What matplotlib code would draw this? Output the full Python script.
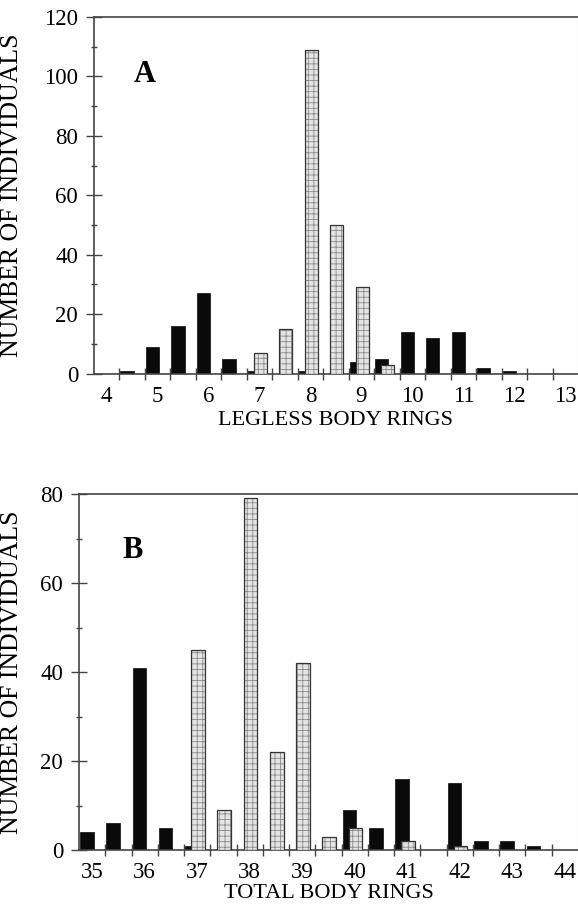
import numpy as np
import matplotlib
matplotlib.use("Agg")
import matplotlib.pyplot as plt
from matplotlib.ticker import MultipleLocator, FixedLocator

plt.rcParams['font.family'] = ['Liberation Serif', 'DejaVu Serif']
plt.rcParams['hatch.linewidth'] = 0.6

# ---- Data ----
rings_a = [4, 4.5, 5, 5.5, 6, 6.5, 7, 7.5, 8, 8.5, 9, 9.5, 10, 10.5, 11, 11.5, 12, 12.5, 13]
black_a = [0, 1, 9, 16, 27, 5, 1, 0, 1, 0, 4, 5, 14, 12, 14, 2, 1, 0, 0]
grey_a = [0, 0, 0, 0, 0, 0, 7, 15, 109, 50, 29, 3, 0, 0, 0, 0, 0, 0, 0]
labels_a = [4, 5, 6, 7, 8, 9, 10, 11, 12, 13]

rings_b = [35, 35.5, 36, 36.5, 37, 37.5, 38, 38.5, 39, 39.5, 40, 40.5, 41, 41.5, 42, 42.5, 43, 43.5, 44]
black_b = [4, 6, 41, 5, 1, 0, 0, 0, 0, 0, 9, 5, 16, 0, 15, 2, 2, 1, 0]
grey_b = [0, 0, 0, 0, 45, 9, 79, 22, 42, 3, 5, 0, 2, 0, 1, 0, 0, 0, 0]
labels_b = [35, 36, 37, 38, 39, 40, 41, 42, 43, 44]

W, H = 578, 907
fig = plt.figure(figsize=(W / 100, H / 100), dpi=100)

def px_axes(left, top, right, bottom):
    return fig.add_axes([left / W, (H - bottom) / H, (right - left) / W, (bottom - top) / H])

axA = px_axes(94, 17, 578, 373.5)
axB = px_axes(79, 494, 578, 850)

BW = 0.26
SPINE = '#444444'

def draw(ax, cats, blk, gry, labels, ymax, xlabel, letter, letter_xy):
    cats = np.asarray(cats, dtype=float)
    blk = np.asarray(blk)
    gry = np.asarray(gry)
    bm = blk > 0
    ax.bar(cats[bm] - 0.10, blk[bm], width=BW, color='#0a0a0a', edgecolor='#0a0a0a',
           linewidth=0.5, zorder=2)
    gm = gry > 0
    # stippled grey bars
    ax.bar(cats[gm] + 0.015, gry[gm], width=BW, color='#e4e4e4', edgecolor='#8a8a8a',
           hatch='+++', linewidth=0, zorder=3)
    ax.bar(cats[gm] + 0.015, gry[gm], width=BW, fill=False,
           edgecolor='#333333', linewidth=0.9, zorder=4)
    lo, hi = cats[0] - 0.25, cats[-1] + 0.25
    ax.set_xlim(lo, hi)
    ax.set_ylim(0, ymax)
    ax.xaxis.set_major_locator(FixedLocator(labels))
    ax.set_xticklabels([str(l) for l in labels])
    ax.xaxis.set_minor_locator(FixedLocator(list(np.arange(lo + 0.5, hi - 0.01, 0.5))))
    ax.tick_params(axis='x', which='major', length=0, pad=9, labelsize=16.5)
    ax.tick_params(axis='x', which='minor', direction='inout', length=9, width=1.0, color=SPINE)
    ax.yaxis.set_major_locator(MultipleLocator(20))
    ax.yaxis.set_minor_locator(MultipleLocator(10))
    ax.tick_params(axis='y', which='major', direction='inout', length=11, width=1.0,
                   color=SPINE, labelsize=16.5, pad=6)
    ax.tick_params(axis='y', which='minor', direction='inout', length=5, width=1.0, color=SPINE)
    for s in ['left', 'bottom', 'top']:
        ax.spines[s].set_color(SPINE)
        ax.spines[s].set_linewidth(1.2)
    ax.spines['right'].set_color('#bbbbbb')
    ax.spines['right'].set_linewidth(0.8)
    ax.set_xlabel(xlabel, fontsize=16)
    ax.set_ylabel('NUMBER OF INDIVIDUALS', fontsize=18.5)
    ax.text(letter_xy[0], letter_xy[1], letter, fontsize=22, fontweight='bold',
            ha='center', va='center')

draw(axA, rings_a, black_a, grey_a, labels_a, 120, 'LEGLESS BODY RINGS', 'A', (4.74, 100.5))
draw(axB, rings_b, black_b, grey_b, labels_b, 80, 'TOTAL BODY RINGS', 'B', (35.78, 67.2))

axA.yaxis.set_label_coords(-71 / 484, 0.5)
axB.yaxis.set_label_coords(-56 / 499, 0.5)
axA.xaxis.set_label_coords(0.5, -47 / 356.5, transform=axA.transAxes)
axB.xaxis.set_label_coords(0.5, -44 / 356, transform=axB.transAxes)
axA.xaxis.label.set_va('center')
axB.xaxis.label.set_va('center')

fig.savefig('out.png', dpi=100)
